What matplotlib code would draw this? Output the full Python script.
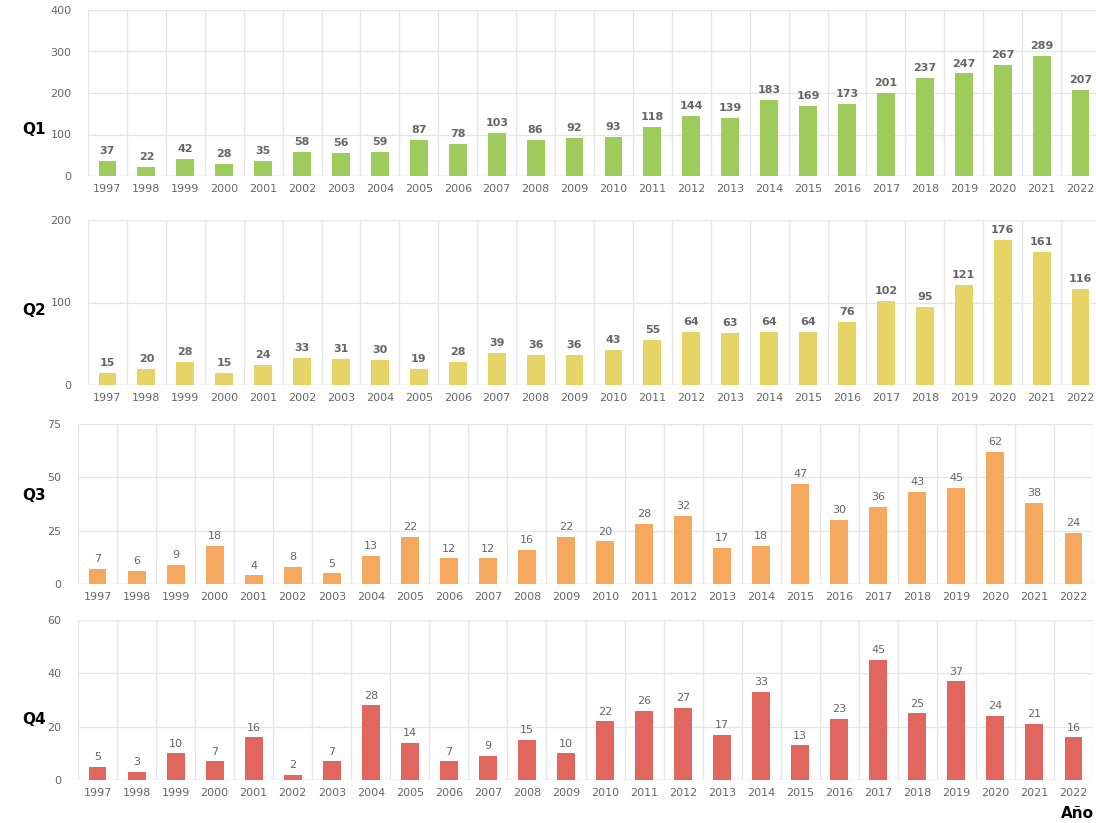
import matplotlib
matplotlib.use("Agg")
import matplotlib.pyplot as plt
import numpy as np

years = [str(y) for y in range(1997, 2023)]
q1 = [37, 22, 42, 28, 35, 58, 56, 59, 87, 78, 103, 86, 92, 93, 118, 144, 139, 183, 169, 173, 201, 237, 247, 267, 289, 207]
q2 = [15, 20, 28, 15, 24, 33, 31, 30, 19, 28, 39, 36, 36, 43, 55, 64, 63, 64, 64, 76, 102, 95, 121, 176, 161, 116]
q3 = [7, 6, 9, 18, 4, 8, 5, 13, 22, 12, 12, 16, 22, 20, 28, 32, 17, 18, 47, 30, 36, 43, 45, 62, 38, 24]
q4 = [5, 3, 10, 7, 16, 2, 7, 28, 14, 7, 9, 15, 10, 22, 26, 27, 17, 33, 13, 23, 45, 25, 37, 24, 21, 16]

panels = [
    ("Q1", q1, "#9dcb5c", [0, 100, 200, 300, 400], True),
    ("Q2", q2, "#e6d566", [0, 100, 200], True),
    ("Q3", q3, "#f5a85e", [0, 25, 50, 75], False),
    ("Q4", q4, "#e0665e", [0, 20, 40, 60], False),
]

W, H = 1096, 823
fig = plt.figure(figsize=(W / 100, H / 100), dpi=100)

# (left, top, right, bottom) in pixels
boxes = [
    (88, 10, 1100, 176),
    (88, 220, 1100, 385),
    (78, 424, 1093, 584),
    (78, 620, 1093, 780),
]
label_y = [130, 310, 495, 720]

grid_c = "#e6e6e6"
text_c = "#666666"
x = np.arange(len(years))
for (name, vals, color, yt, bold), (l, t, r, b), ly in zip(panels, boxes, label_y):
    ax = fig.add_axes([l / W, 1 - b / H, (r - l) / W, (b - t) / H])
    ax.bar(x, vals, width=0.46, color=color, zorder=3)
    ax.set_xlim(-0.5, len(years) - 0.5)
    ax.set_ylim(0, yt[-1])
    ax.set_yticks(yt)
    ax.set_xticks(x)
    ax.set_xticklabels(years)
    ax.set_xticks(np.arange(-0.5, len(years), 1), minor=True)
    ax.grid(axis="y", which="major", color=grid_c, lw=1, zorder=0)
    ax.grid(axis="x", which="minor", color=grid_c, lw=1, zorder=0)
    ax.grid(axis="x", which="major", visible=False)
    ax.tick_params(axis="both", which="both", length=0, labelsize=8, colors=text_c, pad=6)
    ax.tick_params(axis="y", pad=12)
    for s in ax.spines.values():
        s.set_visible(False)
    ax.axhline(0, color=grid_c, lw=1, zorder=1)
    off = yt[-1] * 0.03
    for xi, v in zip(x, vals):
        ax.text(xi, v + off, str(v), ha="center", va="bottom", fontsize=8,
                color=text_c, fontweight="bold" if bold else "normal")
    fig.text(22 / W, 1 - ly / H, name, fontsize=11, fontweight="bold",
             ha="left", va="center", color="black")

fig.text(1094 / W, 1 - 813 / H, "Año", fontsize=11, fontweight="bold",
         ha="right", va="center", color="black")

fig.savefig("out.png", dpi=100, facecolor="white")
